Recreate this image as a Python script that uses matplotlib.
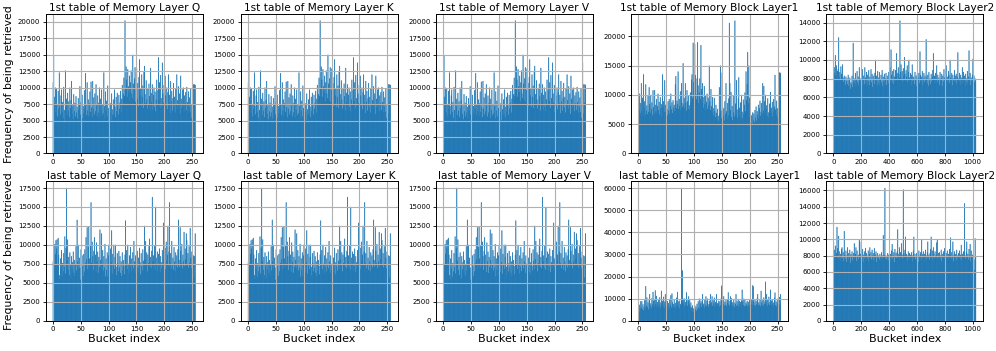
import numpy as np
import matplotlib.pyplot as plt

# retrieval counts per bucket (Q, K, V tables look the same in the figure)
q_first = [
    10800, 14900, 8600, 7600, 10000, 6200, 9800, 7400, 5600, 9500, 6800, 12300, 7200, 5900, 8800, 9700,
    6300, 7800, 5400, 10100, 6600, 4700, 12600, 7100, 8300, 5800, 9200, 6500, 7900, 5500, 10000, 6900,
    8100, 11000, 6000, 7300, 5200, 9000, 6400, 7700, 5600, 8700, 6200, 7100, 5300, 8400, 6600, 7500,
    10200, 5900, 7800, 6700, 8900, 5400, 7200, 6100, 9600, 6800, 12200, 7400, 5800, 10800, 6500, 8200,
    5700, 7600, 9400, 6300, 10900, 7000, 5500, 11000, 6800, 8500, 5900, 9100, 6400, 10500, 7300, 5600,
    8800, 6200, 7700, 10000, 5400, 8300, 6600, 9700, 5800, 7500, 6100, 12300, 7200, 5300, 9400, 6500,
    8000, 5600, 10300, 6900, 4700, 8400, 6300, 7600, 5100, 9100, 6700, 5800, 8200, 6000, 9700, 7100,
    5500, 8600, 6400, 9200, 7300, 5900, 8900, 6800, 7700, 9500, 6200, 8300, 10400, 7400, 9000, 11500,
    8700, 20200, 9800, 13200, 11200, 8600, 12800, 10200, 9300, 11800, 7900, 10800, 12600, 9100, 8400, 15000,
    10600, 8100, 11400, 13100, 7800, 9600, 12900, 8300, 10700, 7200, 11600, 14300, 8800, 9900, 7100, 12000,
    8600, 10300, 6900, 12500, 13300, 9000, 7600, 11100, 8200, 6800, 9800, 7400, 10600, 8700, 6500, 13000,
    9200, 7800, 10500, 6600, 8900, 10000, 7100, 9400, 6400, 8200, 11200, 7500, 9600, 14600, 8000, 10800,
    6900, 11900, 8400, 7200, 13800, 9100, 7700, 10400, 6300, 11800, 8800, 7300, 10000, 6700, 9300, 12000,
    7600, 8900, 6100, 11000, 7900, 9500, 6500, 8400, 10700, 7000, 8600, 6200, 9900, 7400, 12000, 8100,
    6800, 10200, 7500, 9100, 6000, 11800, 8300, 6900, 9700, 7300, 10000, 6400, 8800, 7600, 9300, 6600,
    10100, 7800, 6200, 9400, 7100, 8500, 6300, 9800, 5400, 7400, 13800, 6100, 10500, 7700, 10500, 10400,
]
q_last = [
    7800, 6400, 7500, 10100, 8800, 10600, 9500, 10700, 7400, 10900, 8700, 6000, 5500, 8200, 6900, 9300,
    5800, 7600, 6500, 8900, 7100, 11100, 6200, 9600, 17500, 7900, 10700, 6700, 8400, 6000, 9000, 7300,
    5600, 8500, 6800, 7700, 9100, 6300, 8000, 5900, 7400, 9800, 6600, 13300, 7800, 10000, 6900, 8300,
    7000, 5400, 9400, 6400, 8600, 7200, 5900, 8800, 6500, 9400, 7600, 11000, 8100, 12300, 6800, 9700,
    12400, 8200, 7000, 9900, 15600, 7600, 10400, 8500, 6700, 9200, 11000, 7300, 8700, 6400, 10300, 7800,
    9100, 6300, 8400, 7100, 12000, 8000, 6900, 11500, 7400, 9300, 6600, 8500, 7000, 10100, 5800, 8200,
    6700, 9000, 5900, 8600, 10000, 7200, 6400, 9500, 7700, 11900, 6200, 8800, 7300, 10000, 6800, 8400,
    10000, 7100, 6000, 8900, 7600, 6500, 9200, 7000, 8500, 6300, 7800, 5900, 9000, 6600, 8000, 7200,
    6100, 8700, 13200, 7400, 9300, 6800, 10000, 7500, 6200, 8600, 7100, 9700, 6500, 8200, 7300, 9000,
    6900, 10500, 7800, 6300, 8600, 7500, 6700, 9200, 7000, 8300, 6400, 9600, 7700, 6100, 8900, 7200,
    6600, 9400, 7900, 6800, 12500, 8100, 10500, 7300, 9000, 6500, 8700, 7600, 9800, 10800, 7100, 8400,
    6900, 9200, 16300, 7800, 8600, 7000, 9900, 6700, 15000, 8300, 7400, 9100, 6600, 8800, 7200, 9500,
    6400, 8500, 7700, 6900, 9300, 7500, 12900, 8200, 7000, 9600, 6800, 10400, 7900, 8700, 12500, 7300,
    9100, 15600, 7600, 8900, 6900, 10500, 7400, 8300, 6700, 9700, 7800, 6500, 9000, 7300, 8600, 7000,
    9400, 13300, 8000, 7100, 12300, 9200, 7600, 10100, 6900, 8700, 7800, 11700, 7200, 9500, 8100, 11500,
    10600, 7400, 8900, 7000, 9800, 7600, 12200, 8300, 6900, 9100, 8400, 7500, 8600, 5700, 8500, 11500,
]
b1_first = [
    11000, 7500, 10200, 6800, 8600, 12000, 7200, 9500, 6400, 13500, 7800, 8900, 6600, 11800, 7300, 8200,
    6700, 9800, 7100, 11300, 8400, 6900, 10000, 7600, 8700, 6500, 10800, 7900, 6800, 10800, 8300, 7200,
    9300, 6900, 8100, 10200, 7400, 8800, 6600, 9600, 7700, 8400, 6300, 13500, 7900, 8900, 7100, 12500,
    8300, 7000, 11200, 7600, 6500, 8900, 7300, 9300, 6800, 8100, 10200, 7500, 8700, 6900, 9100, 7800,
    8300, 7200, 11800, 13200, 7700, 9000, 8400, 14000, 7600, 9300, 8100, 10600, 7400, 12000, 8600, 7900,
    15400, 8300, 9500, 7700, 12000, 8700, 7300, 10800, 8900, 7600, 9800, 8200, 7500, 10400, 8800, 12600,
    13500, 9400, 18900, 12200, 10500, 18700, 13400, 10100, 9200, 12800, 19000, 11600, 8600, 10400, 12800, 9300,
    18500, 11000, 8700, 12000, 9600, 7800, 11500, 8400, 9900, 7300, 8800, 10200, 7600, 9500, 8200, 15000,
    8900, 7400, 11000, 8100, 7000, 9600, 7700, 6500, 9500, 7200, 6200, 8300, 6900, 5800, 7600, 6400,
    5500, 11300, 6700, 15000, 7300, 6000, 13800, 8100, 6400, 7700, 5600, 8900, 6800, 12000, 7200, 5900,
    8600, 6500, 9400, 22300, 12000, 7400, 10500, 6200, 8100, 5700, 9800, 7000, 6300, 22700, 8500, 6600,
    12500, 7500, 6100, 9400, 13000, 7800, 6400, 8700, 5600, 10000, 7100, 6000, 9200, 6700, 8300, 10400,
    7200, 14000, 9100, 11800, 17300, 8600, 15000, 9500, 6300, 7600, 5200, 6500, 4800, 7000, 5700, 6800,
    5300, 7400, 6100, 8000, 5600, 7200, 6600, 8300, 6000, 7700, 9000, 6400, 7100, 8600, 6800, 12000,
    7300, 11500, 8900, 6700, 10000, 7600, 8200, 6400, 9400, 7000, 6100, 8500, 7400, 10500, 6900, 7800,
    8800, 6300, 9300, 7200, 8000, 13400, 7500, 6600, 9000, 7700, 6200, 7500, 6900, 13800, 13800, 13700,
]
b1_last = [
    5000, 3800, 7200, 5400, 8800, 6100, 8800, 5200, 7400, 4600, 6300, 9200, 5500, 15600, 7000, 10500,
    6200, 8300, 5100, 9600, 12000, 6700, 7800, 5800, 10100, 7300, 13000, 8900, 6400, 9700, 13700, 7600,
    11200, 6500, 8400, 5900, 9300, 7100, 10600, 6000, 8200, 13500, 7400, 9000, 6300, 10800, 5700, 8600,
    12000, 6900, 7700, 5300, 8900, 6600, 8000, 5400, 9800, 7200, 11500, 6100, 12300, 8300, 5800, 7500,
    9500, 6400, 8100, 5600, 10400, 7000, 13000, 6200, 8700, 5500, 9100, 7600, 6800, 60000, 9200, 22700,
    7900, 9900, 6500, 10000, 8400, 7100, 12800, 9400, 6700, 8800, 11000, 7300, 9600, 6100, 8200, 5900,
    4300, 6900, 3900, 5600, 4800, 7000, 5100, 6400, 4400, 7600, 5300, 8700, 6000, 10000, 5500, 7800,
    9100, 6300, 8500, 12000, 6800, 7700, 5900, 9400, 7200, 11000, 6500, 8800, 10000, 7400, 6200, 9000,
    7600, 12000, 6900, 8300, 11000, 6700, 9200, 7800, 10400, 6300, 8500, 7300, 12000, 6600, 8000, 7500,
    9000, 6400, 8700, 6900, 9900, 15800, 14000, 8700, 7400, 11000, 6800, 8600, 7100, 9300, 6500, 8000,
    9700, 12800, 7300, 6800, 8900, 11000, 7600, 10100, 6400, 8300, 7000, 9500, 6100, 8200, 7500, 12000,
    6600, 8800, 7200, 9800, 6300, 9000, 7400, 8500, 6000, 9200, 14000, 8600, 7100, 10000, 6500, 9400,
    6700, 8200, 7300, 9000, 6400, 8500, 7000, 9600, 6800, 8200, 7500, 9300, 6900, 16000, 15500, 8400,
    7100, 9500, 6600, 8800, 7400, 10100, 12000, 6900, 8300, 7200, 9700, 6500, 13500, 8100, 7000, 9200,
    6800, 10500, 7600, 8700, 17600, 7300, 12000, 6600, 9400, 7800, 10800, 7100, 8500, 14000, 6900, 9100,
    9500, 7400, 8200, 6300, 10400, 12700, 7000, 8600, 6500, 9900, 7700, 8300, 6200, 10700, 7300, 12000,
]
# 1024-bucket tables in groups of 4 buckets
b2_first = [
    8400, 9200, 8600, 10500, 8300, 9400, 8100, 8800, 9000, 12400, 8200, 8700, 7900, 9300, 8500, 8000,
    9500, 8100, 7600, 8300, 7900, 7300, 8200, 7700, 8000, 7400, 8400, 7200, 7800, 8100, 6900, 7600,
    7400, 8300, 7100, 11800, 7700, 8000, 7500, 8600, 7200, 7900, 8800, 7600, 8200, 7300, 9200, 7800,
    8000, 7600, 8500, 7300, 9000, 7900, 8300, 7400, 9200, 8100, 7500, 8700, 7200, 8400, 7700, 8900,
    7300, 8200, 7800, 9000, 7600, 8500, 7100, 8300, 7900, 7400, 8600, 10000, 7700, 8300, 7200, 8800,
    7500, 8100, 8700, 7300, 7900, 8400, 7600, 8900, 7200, 8200, 7700, 8500, 7400, 8000, 8600, 7300,
    7900, 8300, 7500, 8700, 8100, 9200, 7800, 11100, 8400, 7600, 8800, 7400, 9000, 8200, 7700, 8900,
    8300, 10700, 8600, 7900, 9200, 8500, 8100, 14200, 8700, 9500, 8000, 8800, 7700, 9100, 8300, 10300,
    8500, 7800, 8900, 8200, 9400, 7600, 8700, 10000, 8100, 7900, 8600, 7300, 8400, 9500, 7700, 8200,
    8000, 7400, 8700, 7900, 8300, 7200, 8500, 7800, 8100, 8600, 7500, 10900, 8400, 7700, 8200, 8800,
    7300, 8000, 8600, 7600, 8300, 7900, 12200, 8100, 7500, 8400, 7200, 8700, 7800, 8000, 7400, 8500,
    7700, 8200, 8900, 10700, 7900, 8300, 7500, 8600, 8000, 9400, 7600, 8400, 7900, 8100, 7300, 8700,
    7800, 8000, 8500, 7200, 8300, 7700, 9000, 8100, 7400, 8600, 9400, 7900, 8200, 7600, 8800, 8400,
    7500, 10000, 8100, 7800, 8600, 7300, 8400, 8000, 7700, 8900, 7600, 8300, 8500, 7400, 8200, 10800,
    8000, 7700, 8600, 7300, 8400, 7900, 8100, 9200, 7500, 8700, 7800, 8300, 7200, 8500, 8000, 7600,
    8800, 7400, 8200, 11000, 7900, 8600, 7300, 8100, 7700, 8400, 10100, 7800, 8300, 7600, 8000, 7800,
]
b2_last = [
    9700, 8700, 8000, 9200, 7800, 8300, 11500, 8900, 7600, 10400, 8500, 7900, 8200, 7400, 8800, 9000,
    7700, 8400, 7300, 11000, 8100, 7600, 8600, 7200, 8000, 9000, 7500, 8300, 7800, 8700, 7100, 8200,
    7900, 8500, 7400, 8000, 8300, 9500, 7700, 8200, 9000, 7300, 8600, 7800, 8100, 7500, 10000, 9700,
    8200, 7600, 8400, 7900, 8800, 7200, 8100, 8500, 7600, 8900, 7400, 8300, 8000, 7700, 8600, 7300,
    8200, 9000, 7800, 8400, 7500, 8700, 8000, 7400, 8300, 8900, 7600, 8100, 8500, 7200, 7900, 8300,
    7700, 8000, 7500, 8200, 7900, 7300, 8400, 7600, 8000, 10500, 7800, 8100, 16300, 7700, 8000, 7500,
    7900, 8300, 7400, 8100, 6800, 7800, 8200, 7300, 8600, 9400, 7600, 8000, 8400, 7200, 8800, 7900,
    8300, 7700, 8500, 11200, 7800, 8200, 9000, 7500, 8400, 7900, 9500, 8100, 7600, 16100, 8300, 8000,
    8700, 10300, 7800, 8200, 7400, 8000, 8500, 7700, 8300, 7600, 8100, 7900, 8400, 7300, 8000, 8600,
    10300, 7800, 8200, 7500, 7900, 8300, 7600, 8100, 7200, 8600, 7800, 8000, 8400, 7400, 10000, 8200,
    7700, 8500, 7900, 8200, 7300, 8700, 8000, 7600, 8400, 9700, 7800, 8100, 7500, 8300, 8800, 10300,
    7900, 8600, 7400, 9000, 8200, 7700, 8500, 7800, 8100, 9600, 10000, 7600, 8300, 7900, 8400, 7500,
    8000, 8700, 7300, 8200, 7800, 8500, 7600, 8900, 8100, 7400, 8300, 7900, 8600, 7700, 8200, 7500,
    8800, 8000, 10200, 7600, 8400, 7900, 9700, 7300, 8100, 8500, 7700, 8200, 7400, 8700, 8000, 7600,
    8300, 7800, 8600, 7500, 8100, 9300, 7400, 8200, 7900, 8500, 7700, 14400, 8000, 7600, 8400, 9700,
    7800, 8200, 7500, 8800, 8000, 9400, 7300, 8600, 7900, 8100, 7700, 8300, 7500, 6200, 10100, 7800,
]

top_titles = ["1st table of Memory Layer Q", "1st table of Memory Layer K",
              "1st table of Memory Layer V", "1st table of Memory Block Layer1",
              "1st table of Memory Block Layer2"]
bottom_titles = ["last table of Memory Layer Q", "last table of Memory Layer K",
                 "last table of Memory Layer V", "last table of Memory Block Layer1",
                 "last table of Memory Block Layer2"]
top_data = [q_first, q_first, q_first, b1_first, b2_first]
bottom_data = [q_last, q_last, q_last, b1_last, b2_last]
bucket_step = [1, 1, 1, 1, 4]

fig, axes = plt.subplots(2, 5, figsize=(9.96, 3.51), dpi=100)
fig.subplots_adjust(left=0.046, right=0.987, bottom=0.086, top=0.96,
                    wspace=0.245, hspace=0.2)

for row, (titles, datas) in enumerate([(top_titles, top_data), (bottom_titles, bottom_data)]):
    for col in range(5):
        ax = axes[row, col]
        vals = np.array(datas[col])
        step = bucket_step[col]
        x = np.arange(len(vals)) * step
        # no pixel snapping + thin same-colour edge, so the sub-pixel bars blend
        ax.bar(x, vals, width=0.8 * step, align="edge", color="#1f77b4",
               edgecolor="#1f77b4", linewidth=0.3, snap=False)
        ax.grid(True, color="#b0b0b0", linewidth=0.8)
        ax.set_title(titles[col], fontsize=7.6, pad=2)
        ax.tick_params(labelsize=5, length=2.5, width=0.6, pad=1.5)
        if step == 4:
            ax.set_xticks([0, 200, 400, 600, 800, 1000])
        else:
            ax.set_xticks([0, 50, 100, 150, 200, 250])
        for sp in ax.spines.values():
            sp.set_linewidth(0.7)
        if col == 0:
            ax.set_ylabel("Frequency of being retrieved", fontsize=7.8, labelpad=3)
        if row == 1:
            ax.set_xlabel("Bucket index", fontsize=8, labelpad=1)

fig.savefig("out.png", dpi=100)
